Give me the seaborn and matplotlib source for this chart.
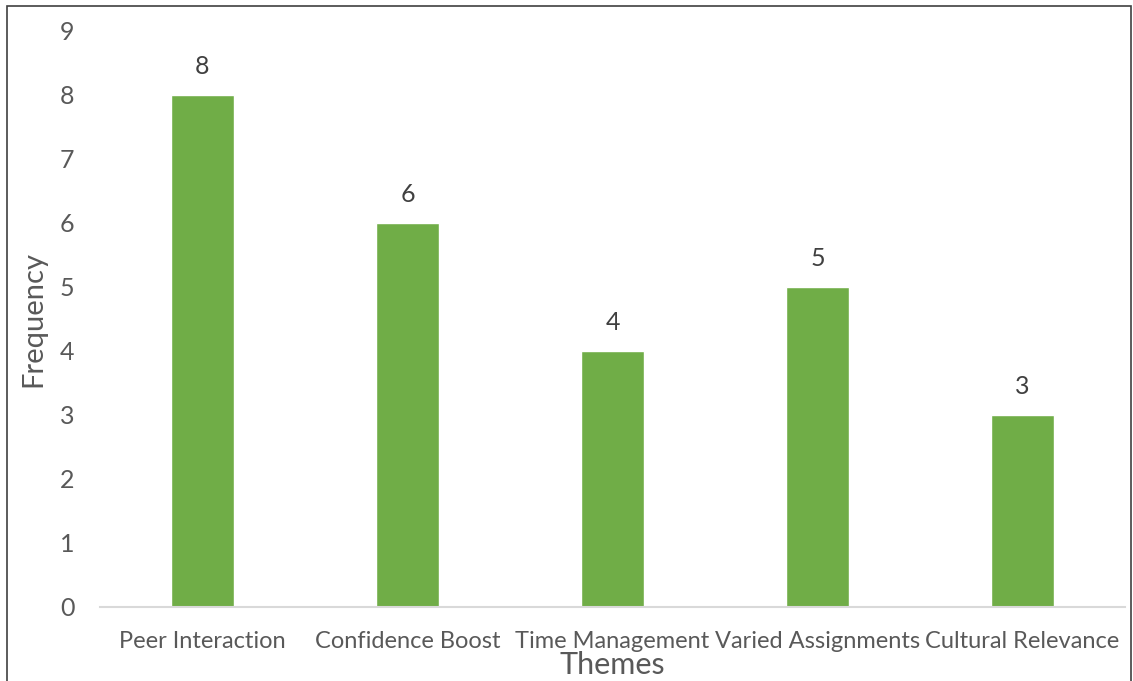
import matplotlib
matplotlib.use("Agg")
import matplotlib.pyplot as plt
import seaborn as sns
import pandas as pd
from matplotlib.patches import Rectangle

themes = ["Peer Interaction", "Confidence Boost", "Time Management", "Varied Assignments", "Cultural Relevance"]
frequency = [8, 6, 4, 5, 3]
yticks = [0, 1, 2, 3, 4, 5, 6, 7, 8, 9]

sns.set_style("white")
plt.rcParams['font.family'] = ['Lato', 'DejaVu Sans']

df = pd.DataFrame({"Themes": themes, "Frequency": frequency})

fig = plt.figure(figsize=(11.33, 6.81), dpi=100)
ax = fig.add_axes([100/1133, 1-607/681, 1025/1133, 576/681])
sns.barplot(data=df, x="Themes", y="Frequency", color="#70AD47", width=0.31,
            saturation=1, ax=ax)

ax.set_ylim(0, 9)
ax.set_xlim(-0.5, 4.5)
ax.set_yticks(yticks)
for s in ["top", "right", "left"]:
    ax.spines[s].set_visible(False)
ax.spines["bottom"].set_color("#D9D9D9")
ax.spines["bottom"].set_linewidth(1.5)
ax.tick_params(axis="both", length=0, colors="#595959")
ax.tick_params(axis="y", labelsize=18, pad=18.5)
ax.tick_params(axis="x", labelsize=17, pad=17.5)

for c in ax.containers:
    ax.bar_label(c, labels=[str(v) for v in frequency], padding=12, fontsize=18, color="#404040")

ax.set_xlabel("Themes", fontsize=22, color="#595959")
ax.xaxis.set_label_coords(0.5, -(665-607)/576)
ax.xaxis.label.set_va("center")
ax.set_ylabel("Frequency", fontsize=21, color="#595959")
ax.yaxis.set_label_coords((33-100)/1025, 0.5)
ax.yaxis.label.set_va("center")

fig.patches.append(Rectangle((7/1133, -0.1), 1124/1133, 1-6/681+0.1, transform=fig.transFigure,
                             fill=False, edgecolor="#404040", linewidth=1.2))

fig.savefig("out.png", dpi=100)
